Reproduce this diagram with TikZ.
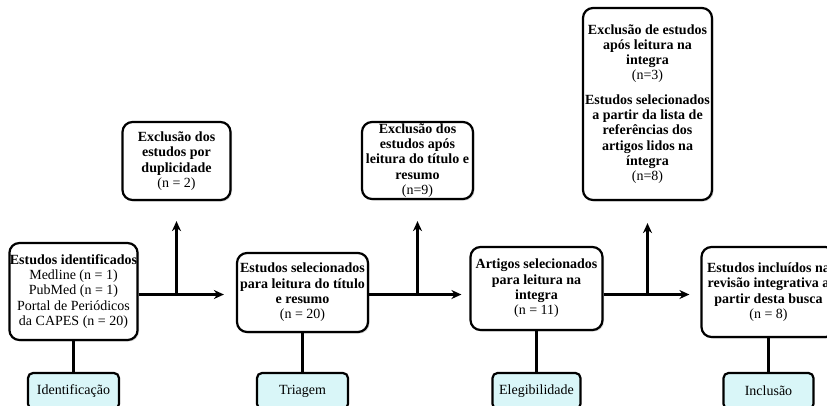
\documentclass[tikz,border=0pt]{standalone}
\usepackage{fontspec}
\setmainfont{Liberation Serif}
\usetikzlibrary{arrows.meta,shadows}
\definecolor{fasecor}{RGB}{217,246,248}
\begin{document}
\begin{tikzpicture}[x=1pt,y=-1pt,
  etapa/.style={draw,line width=2.2pt,rounded corners=10pt,align=center,inner sep=0.5pt,fill=white,
    font=\bfseries\fontsize{14}{15.3}\selectfont,
    drop shadow={opacity=0.3,shadow xshift=1.5pt,shadow yshift=-1.5pt}},
  fase/.style={draw,line width=2.2pt,rounded corners=5pt,fill=fasecor,minimum height=36pt,
    font=\fontsize{14}{15}\selectfont},
  liga/.style={line width=2.4pt},
  seta/.style={line width=2.4pt,-{Stealth[length=10pt,width=9pt]}}]
\clip (0,0) rectangle (827,405);
% etapas principais
\node[etapa,minimum width=127pt,minimum height=97pt] (ident) at (73.5,291.5)
  {Estudos identificados\\\textnormal{Medline (n = 1)}\\\textnormal{PubMed (n = 1)}\\\textnormal{Portal de Periódicos}\\\textnormal{da CAPES (n = 20)}};
\node[etapa,minimum width=131pt,minimum height=79pt] (triag) at (302.5,292.5)
  {Estudos selecionados\\para leitura do título\\e resumo\\\textnormal{(n = 20)}};
\node[etapa,minimum width=132pt,minimum height=83pt] (eleg) at (536.5,288.5)
  {Artigos selecionados\\para leitura na\\integra\\\textnormal{(n = 11)}};
\node[etapa,minimum width=134pt,minimum height=90pt] (incl) at (768.5,292)
  {Estudos incluídos na\\revisão integrativa a\\partir desta busca\\\textnormal{(n = 8)}};
% exclusoes
\node[etapa,minimum width=108pt,minimum height=78pt] (exc1) at (176.5,161)
  {Exclusão dos\\estudos por\\duplicidade\\\textnormal{(n = 2)}};
\node[etapa,minimum width=111pt,minimum height=77pt] (exc2) at (417.5,160.5)
  {Exclusão dos\\estudos após\\leitura do título e\\resumo\\\textnormal{(n=9)}};
\node[etapa,minimum width=129pt,minimum height=192pt] (exc3) at (647.5,104)
  {Exclusão de estudos\\após leitura na\\integra\\\textnormal{(n=3)}\\[9pt]Estudos selecionados\\a partir da lista de\\referências dos\\artigos lidos na\\íntegra\\\textnormal{(n=8)}};
% fases
\node[fase,minimum width=91pt] (f1) at (73.5,391) {Identificação};
\node[fase,minimum width=91pt] (f2) at (302.5,391) {Triagem};
\node[fase,minimum width=88pt] (f3) at (536.5,391) {Elegibilidade};
\node[fase,minimum width=90pt] (f4) at (768.5,391) {Inclusão};
\draw[liga] (ident) -- (f1);
\draw[liga] (triag) -- (f2);
\draw[liga] (eleg) -- (f3);
\draw[liga] (incl) -- (f4);
% setas
\coordinate (r1) at (176.5,294.5);
\coordinate (r2) at (417.5,294.5);
\coordinate (r3) at (647.5,294.5);
\draw[seta,shorten >=12pt] (ident.east |- r1) -- (triag.west |- r1);
\draw[seta,shorten >=20pt] (r1) -- (exc1.south);
\draw[seta,shorten >=8pt] (triag.east |- r2) -- (eleg.west |- r2);
\draw[seta,shorten >=21pt] (r2) -- (exc2.south);
\draw[seta,shorten >=11pt] (eleg.east |- r3) -- (incl.west |- r3);
\draw[seta,shorten >=22pt] (r3) -- (exc3.south);
\end{tikzpicture}
\end{document}
